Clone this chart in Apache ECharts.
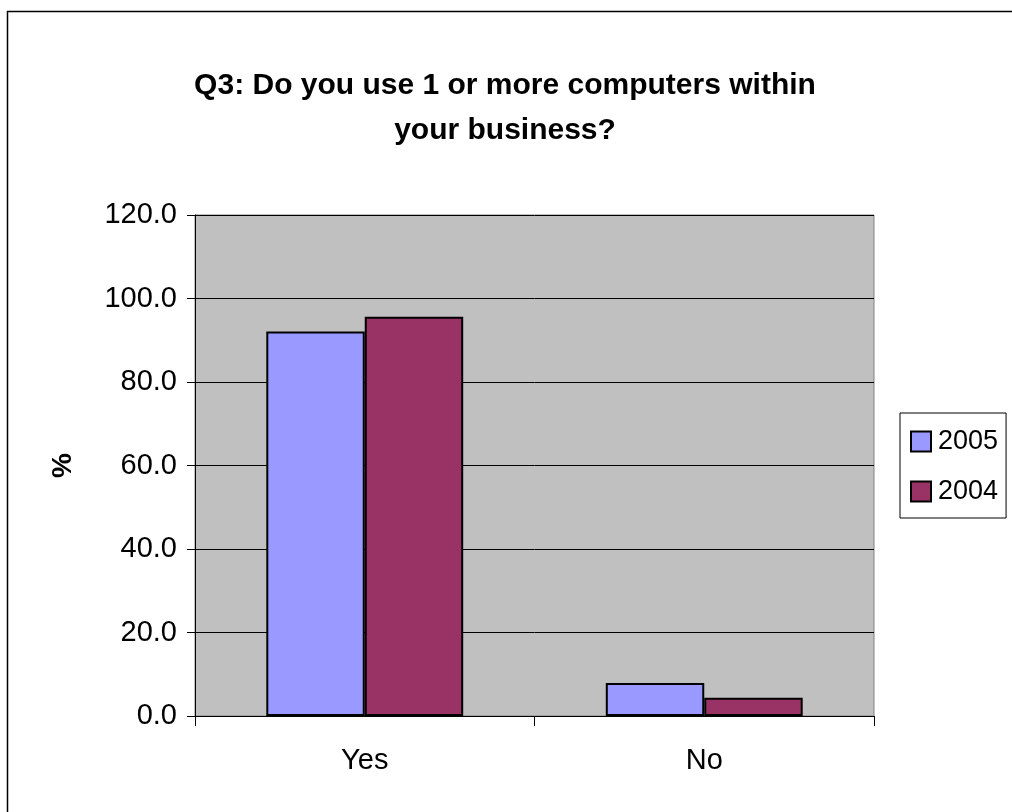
<!DOCTYPE html>
<html>
<head>
<meta charset="utf-8">
<script src="https://cdn.jsdelivr.net/npm/echarts@6/dist/echarts.min.js"></script>
<style>
  html, body { margin: 0; padding: 0; background: #fff; }
  #chart { width: 1012px; height: 812px; }
</style>
</head>
<body>
<div id="chart"></div>
<script>
// Survey answers, percent of respondents
const categories = ['Yes', 'No'];
const seriesNames = ['2005', '2004'];
const values2005 = [92.1, 7.9];
const values2004 = [95.6, 4.4];
const yTicks = { min: 0, max: 120, interval: 20 };
const titleLines = ['Q3: Do you use 1 or more computers within', 'your business?'];

const FONT = '"Liberation Sans", Arial, sans-serif';
const chart = echarts.init(document.getElementById('chart'), null, { renderer: 'canvas' });

chart.setOption({
  backgroundColor: '#ffffff',
  animation: false,
  graphic: [
    {
      type: 'rect',
      silent: true,
      shape: { x: 7.5, y: 11.5, width: 1100, height: 900 },
      style: { fill: 'none', stroke: '#000', lineWidth: 1.5 },
      z: -1
    },
    {
      type: 'text',
      silent: true,
      x: 505,
      y: 108,
      style: {
        text: titleLines.join('\n'),
        align: 'center',
        verticalAlign: 'middle',
        fontFamily: FONT,
        fontWeight: 'bold',
        fontSize: 30,
        lineHeight: 45,
        fill: '#000'
      }
    }
  ],
  grid: {
    left: 195, right: 138, top: 215, bottom: 96,
    show: true,
    backgroundColor: '#C0C0C0',
    borderColor: '#808080',
    borderWidth: 1
  },
  legend: {
    orient: 'vertical',
    left: 900,
    top: 413,
    data: seriesNames.map(n => ({ name: n, icon: 'rect' })),
    itemWidth: 20,
    itemHeight: 20,
    itemGap: 23,
    padding: [15, 8, 13, 10],
    borderColor: '#000',
    borderWidth: 1,
    backgroundColor: '#fff',
    textStyle: { fontFamily: FONT, fontSize: 27, color: '#000', padding: [0, 0, 0, 2] }
  },
  xAxis: {
    type: 'category',
    data: categories,
    axisLine: { show: true, lineStyle: { color: '#000', width: 1 } },
    axisTick: { show: true, length: 10, lineStyle: { color: '#000' } },
    axisLabel: { fontFamily: FONT, fontSize: 29, color: '#000', margin: 30 },
    splitLine: { show: false }
  },
  yAxis: {
    type: 'value',
    min: yTicks.min,
    max: yTicks.max,
    interval: yTicks.interval,
    name: '%',
    nameLocation: 'middle',
    nameGap: 118,
    nameRotate: 90,
    nameTextStyle: { fontFamily: FONT, fontSize: 28, fontWeight: 'bold', color: '#000' },
    axisLine: { show: true, lineStyle: { color: '#000', width: 1 } },
    axisTick: { show: true, length: 8, lineStyle: { color: '#000' } },
    axisLabel: {
      fontFamily: FONT, fontSize: 29, color: '#000', margin: 18,
      formatter: v => v.toFixed(1)
    },
    splitLine: { show: true, lineStyle: { color: '#000', width: 1 } }
  },
  series: [
    {
      name: seriesNames[0],
      type: 'bar',
      data: values2005,
      barGap: '0%',
      barCategoryGap: '42%',
      itemStyle: { color: '#9999FF', borderColor: '#000', borderWidth: 2 }
    },
    {
      name: seriesNames[1],
      type: 'bar',
      data: values2004,
      itemStyle: { color: '#993366', borderColor: '#000', borderWidth: 2 }
    }
  ]
});
</script>
</body>
</html>
